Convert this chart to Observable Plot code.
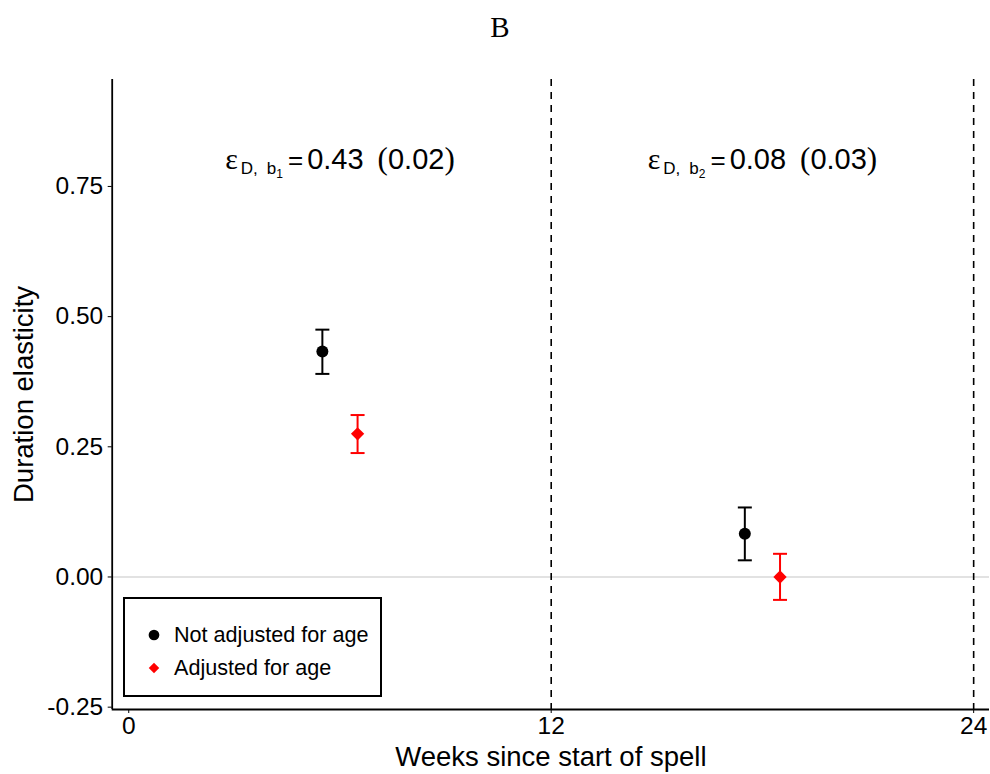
<!DOCTYPE html>
<html>
<head>
<meta charset="utf-8">
<script src="https://cdn.jsdelivr.net/npm/d3@7"></script>
<script src="https://cdn.jsdelivr.net/npm/@observablehq/plot@0.6"></script>
<style>
  html, body { margin: 0; padding: 0; background: #fff; }
  #wrap { position: relative; width: 990px; height: 774px; }
  #title { height: 60px; width: 990px; text-align: center; font-family: "Liberation Serif", "DejaVu Serif", serif; font-size: 29px; line-height: 55px; padding-left: 10px; box-sizing: border-box; overflow: hidden; }
  #legend { position: absolute; left: 123px; top: 597px; width: 255px; height: 96px; border: 2px solid #000; background: #fff; font-family: "Liberation Sans", Arial, sans-serif; font-size: 21.6px; box-sizing: content-box; }
  #legend .row { position: absolute; left: 0; height: 26px; line-height: 26px; }
  #legend .txt { position: absolute; left: 49px; white-space: nowrap; }
  #legend svg { position: absolute; left: 21px; top: 5px; }
</style>
</head>
<body>
<div id="wrap">
  <div id="title">B</div>
  <div id="chart"></div>
  <div id="legend"></div>
</div>
<script>
// ---- data ----
const series = ["Not adjusted for age", "Adjusted for age", "Not adjusted for age", "Adjusted for age"];
const weeks = [5.5, 6.5, 17.5, 18.5];
const estimates = [0.433, 0.275, 0.083, 0.0];
const lower = [0.390, 0.238, 0.032, -0.044];
const upper = [0.475, 0.311, 0.1335, 0.0445];
const seriesColors = {"Not adjusted for age": "#000000", "Adjusted for age": "#ff0000"};
const breakWeeks = [12, 24];
const xTicks = [0, 12, 24];
const yTicks = [-0.25, 0, 0.25, 0.5, 0.75];
const xDomain = [-0.47, 24.45];
const yDomain = [-0.2545, 0.9554];
const annotations = [
  {week: 6, y: 0.82, sub: "1", est: "0.43", se: "0.02"},
  {week: 18, y: 0.82, sub: "2", est: "0.08", se: "0.03"}
];

const data = weeks.map((w, i) => ({week: w, series: series[i], est: estimates[i], lo: lower[i], hi: upper[i]}));
const notAdj = data.filter(d => d.series === "Not adjusted for age");
const adj = data.filter(d => d.series === "Adjusted for age");

const capSymbol = {
  draw(context, size) {
    const r = Math.sqrt(size / Math.PI);
    context.moveTo(-r, 0);
    context.lineTo(r, 0);
  }
};

const sans = "'Liberation Sans', Arial, sans-serif";
const serif = "'Liberation Serif', 'DejaVu Serif', serif";

const chart = Plot.plot({
  width: 990,
  height: 714,
  marginTop: 19,
  marginBottom: 65,
  marginLeft: 111.7,
  marginRight: 1,
  style: {fontFamily: sans, fontSize: "24.5px", color: "#000", background: "#fff"},
  x: {domain: xDomain, ticks: xTicks},
  y: {domain: yDomain, ticks: yTicks},
  marks: [
    Plot.ruleY([0], {stroke: "#d9d9d9", strokeWidth: 1.5}),
    Plot.ruleX(breakWeeks, {stroke: "#000", strokeWidth: 1.6, strokeDasharray: "7,6"}),
    Plot.ruleX([xDomain[0]], {stroke: "#000", strokeWidth: 1.8}),
    Plot.ruleY([yDomain[0]], {stroke: "#000", strokeWidth: 1.8}),
    Plot.axisX({ticks: xTicks, tickSize: 4, tickPadding: 3, fontSize: 24.5, tickFormat: d => String(d), label: "Weeks since start of spell", labelAnchor: "center", labelArrow: "none", labelOffset: 56}),
    Plot.axisY({ticks: yTicks, tickSize: 4, tickPadding: 5, fontSize: 24.5, tickFormat: d => d.toFixed(2), label: "Duration elasticity", labelAnchor: "center", labelArrow: "none", labelOffset: 99}),
    Plot.ruleX(notAdj, {x: "week", y1: "lo", y2: "hi", stroke: seriesColors["Not adjusted for age"], strokeWidth: 2}),
    Plot.ruleX(adj, {x: "week", y1: "lo", y2: "hi", stroke: seriesColors["Adjusted for age"], strokeWidth: 2}),
    Plot.dot(notAdj, {x: "week", y: "lo", symbol: capSymbol, r: 7, stroke: seriesColors["Not adjusted for age"], strokeWidth: 2}),
    Plot.dot(notAdj, {x: "week", y: "hi", symbol: capSymbol, r: 7, stroke: seriesColors["Not adjusted for age"], strokeWidth: 2}),
    Plot.dot(adj, {x: "week", y: "lo", symbol: capSymbol, r: 7, stroke: seriesColors["Adjusted for age"], strokeWidth: 2}),
    Plot.dot(adj, {x: "week", y: "hi", symbol: capSymbol, r: 7, stroke: seriesColors["Adjusted for age"], strokeWidth: 2}),
    Plot.dot(notAdj, {x: "week", y: "est", symbol: "circle", r: 6, fill: seriesColors["Not adjusted for age"], stroke: "none"}),
    Plot.dot(adj, {x: "week", y: "est", symbol: "diamond2", r: 6, fill: seriesColors["Adjusted for age"], stroke: "none"}),
    Plot.text(annotations, {x: "week", y: "y", text: d => d.est, className: "annot", fontSize: 28, textAnchor: "middle"})
  ]
});

document.getElementById("chart").appendChild(chart);

const svg = d3.select(chart);
svg.selectAll("g[aria-label$='tick label'] text").style("font-size", "24.5px");
svg.selectAll("g[aria-label='x-axis label'] text, g[aria-label='y-axis label'] text").style("font-size", "27.5px");

// rich annotation formatting (subscripts, serif symbols)
svg.selectAll(".annot text").each(function(d, i) {
  const a = annotations[i];
  const t = d3.select(this);
  t.text(null).attr("text-anchor", "middle").attr("dy", "0.35em");
  t.append("tspan").attr("font-family", serif).attr("font-size", 30).text("ε");
  t.append("tspan").attr("font-family", sans).attr("font-size", 17).attr("dx", 3).attr("dy", 5).text("D,");
  t.append("tspan").attr("font-family", sans).attr("font-size", 17).attr("dx", 9).text("b");
  t.append("tspan").attr("font-family", sans).attr("font-size", 12).attr("dy", 4).text(a.sub);
  t.append("tspan").attr("font-family", sans).attr("font-size", 26).attr("dx", 5).attr("dy", -9).text("=");
  t.append("tspan").attr("font-family", sans).attr("font-size", 29).attr("dx", 4).text(a.est);
  t.append("tspan").attr("font-family", serif).attr("font-size", 31).attr("dx", 14).text("(");
  t.append("tspan").attr("font-family", sans).attr("font-size", 29).text(a.se);
  t.append("tspan").attr("font-family", serif).attr("font-size", 31).text(")");
});

// legend
const legend = d3.select("#legend");
const entries = ["Not adjusted for age", "Adjusted for age"];
entries.forEach((name, i) => {
  const row = legend.append("div").attr("class", "row").style("top", (23 + i * 33) + "px").style("width", "100%");
  const s = row.append("svg").attr("width", 16).attr("height", 16);
  s.append("path")
    .attr("transform", "translate(8,8)")
    .attr("d", d3.symbol(name === "Adjusted for age" ? d3.symbolDiamond2 : d3.symbolCircle, name === "Adjusted for age" ? 70 : 90)())
    .attr("fill", seriesColors[name]);
  row.append("span").attr("class", "txt").text(name);
});
</script>
</body>
</html>
